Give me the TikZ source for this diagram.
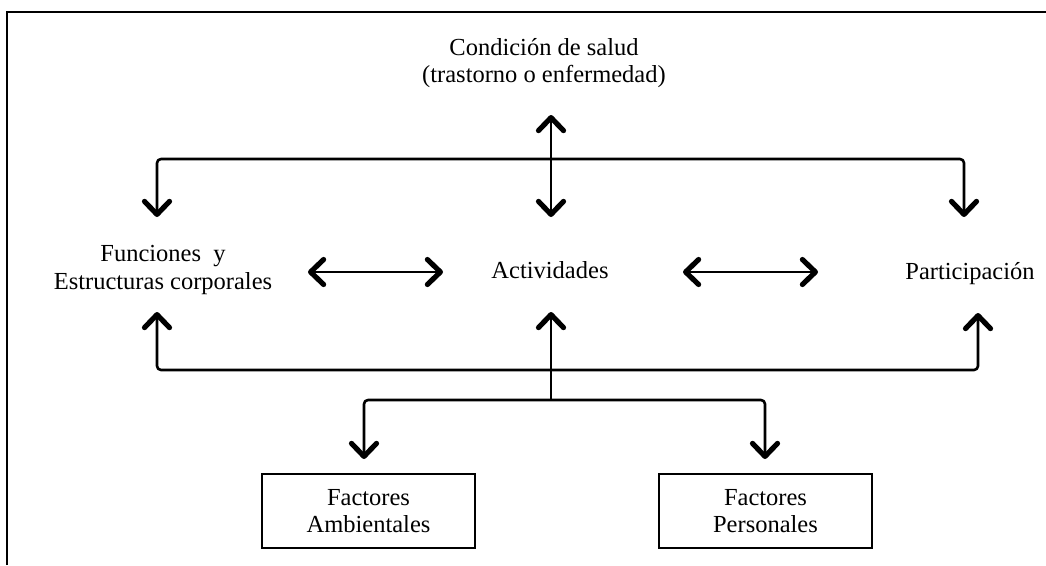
\documentclass[tikz,border=0pt]{standalone}
\usepackage{fontspec}
\setmainfont{Liberation Serif}
\usetikzlibrary{arrows.meta}
\begin{document}
\begin{tikzpicture}[x=1pt,y=-1pt,
  every node/.style={font=\fontsize{24.5}{27.5}\selectfont, inner sep=0pt, align=center},
  label/.style={},
  factorbox/.style={draw, line width=1.8pt, minimum width=213pt, minimum height=74pt},
  chevron/.style={Straight Barb[length=13pt,width=25pt,line width=5.2pt,round]},
  link/.style={line width=2.6pt, line join=round, rounded corners=4pt,
    arrows={Straight Barb[length=13pt,width=25pt,line width=5.2pt,round]-Straight Barb[length=13pt,width=25pt,line width=5.2pt,round]}},
  uplink/.style={line width=2.6pt,
    arrows={-Straight Barb[length=13pt,width=25pt,line width=5.2pt,round]}},
  frame/.style={line width=2pt, line join=miter}
]
\useasboundingbox (0,0) rectangle (1046,565);

% outer frame
\draw[frame] (7,565) -- (7,12) -- (1046,12);

% concepts
\node[label] (cond) at (544,63) {Condición de salud\\(trastorno o enfermedad)};
\node[label] (func) at (163,270) {Funciones~~y\\Estructuras corporales};
\node[label, anchor=base] (act) at (550,278) {Actividades};
\node[label, anchor=base] (part) at (970,279) {Participación};
\node[factorbox] (amb) at (368.5,511) {Factores\\Ambientales};
\node[factorbox] (pers) at (765.5,511) {Factores\\Personales};

% arrow end points
\coordinate (condIn)  at (551,115);
\coordinate (actTop)  at (551,217);
\coordinate (funcTop) at (157,217);
\coordinate (partTop) at (964,217);
\coordinate (topBus)  at (551,159);
\coordinate (funcBot) at (157,312);
\coordinate (partBot) at (978,313);
\coordinate (botBus)  at (551,370);
\coordinate (actBot)  at (551,312);
\coordinate (fork)    at (551,400);
\coordinate (ambIn)   at (364,459);
\coordinate (persIn)  at (765,459);
\coordinate (funcR)   at (308,272);
\coordinate (actL)    at (443,272);
\coordinate (actR)    at (683,272);
\coordinate (partL)   at (818,272);

% connectors
\draw[link] (condIn) -- (actTop);
\draw[link] (funcTop) |- (topBus) -| (partTop);
\draw[link] (funcBot) |- (botBus) -| (partBot);
\draw[uplink] (fork) -- (actBot);
\draw[link] (ambIn) |- (fork) -| (persIn);
\draw[link] (funcR) -- (actL);
\draw[link] (actR) -- (partL);
\end{tikzpicture}
\end{document}
